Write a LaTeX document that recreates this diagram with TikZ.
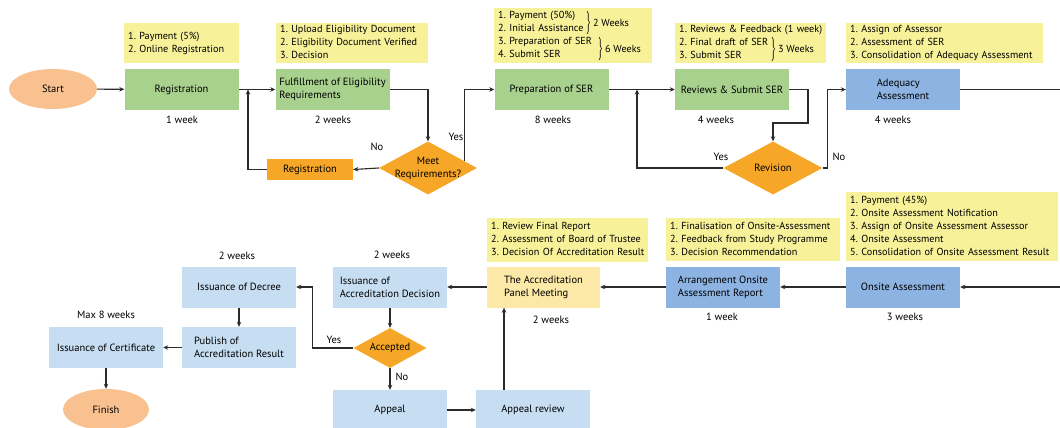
\documentclass[tikz,border=0pt]{standalone}
\usepackage{fontspec}
\setmainfont{PT Sans}
\frenchspacing
\usetikzlibrary{arrows.meta,shapes.geometric,calc,decorations.pathreplacing}
\definecolor{gfill}{HTML}{A9D18E}
\definecolor{notefill}{HTML}{F7F19A}
\definecolor{orng}{HTML}{F7A727}
\definecolor{peach}{HTML}{F9C18F}
\definecolor{dblue}{HTML}{8DB3E2}
\definecolor{lblue}{HTML}{C7DDF2}
\definecolor{pale}{HTML}{FCE8A7}
\definecolor{lncol}{HTML}{2B2B2B}
\newcommand{\lines}[1]{\begin{tabular}{@{}l@{}}#1\end{tabular}}
\begin{document}
\begin{tikzpicture}[x=1pt,y=-1pt,
  font=\fontsize{10.5}{13}\selectfont,
  box/.style={rectangle, minimum width=114pt, minimum height=41pt, align=left, inner sep=2pt},
  gbox/.style={box, fill=gfill},
  dbbox/.style={box, fill=dblue},
  lbbox/.style={box, fill=lblue},
  pbox/.style={box, fill=pale, minimum width=113pt},
  obox/.style={rectangle, fill=orng, minimum width=86pt, minimum height=21pt, inner sep=0pt},
  ell/.style={ellipse, fill=peach, minimum width=88pt, minimum height=40pt, inner sep=0pt},
  dia/.style={diamond, fill=orng, inner sep=0pt},
  notebox/.style={rectangle, fill=notefill, align=left, inner xsep=4pt, inner ysep=0pt, anchor=north west, font=\fontsize{10.2}{13}\selectfont},
  lbl/.style={inner sep=0pt},
  brlbl/.style={inner sep=0pt, anchor=west, font=\fontsize{10.2}{13}\selectfont},
  brc/.style={draw=black, line width=0.6pt, decorate, decoration={brace, amplitude=2.5pt}},
  conn/.style={draw=lncol, line width=1.1pt},
  arr/.style={conn, -{Stealth[length=5pt,width=4.5pt]}}
]
\useasboundingbox (0,0) rectangle (1060,428);
\clip (0,0) rectangle (1060,428);
\fill[white] (0,0) rectangle (1060,428);

% ---- row 1 ----
\node[ell] (start) at (53,89) {Start};
\node[gbox] (reg) at (181.5,89.5) {Registration};
\node[notebox, text width=107pt, minimum height=40pt] (regnote) at (124,23) {\lines{1. Payment (5\%)\\2. Online Registration}};
\node[lbl] (w1) at (182,120) {1 week};

\node[gbox] (ful) at (332.5,89.5) {Fulfillment of Eligibility\\Requirements};
\node[notebox, text width=144pt, minimum height=40pt] (fulnote) at (276,23) {\lines{1. Upload Eligibility Document\\2. Eligibility Document Verified\\3. Decision}};
\node[lbl] (w2) at (333,120) {2 weeks};

\node[dia, minimum width=98pt, minimum height=53pt] (meet) at (428,168) {};
\node[lbl, align=center] (meettxt) at (meet.center) {Meet\\Requirements?};
\node[obox] (reg2) at (310,169.5) {Registration};
\node[lbl] (no1) at (377,147) {No};
\node[lbl] (yes1) at (456,137) {Yes};

\node[gbox] (prep) at (551.5,89.5) {Preparation of SER};
\node[notebox, text width=150pt, minimum height=55pt] (prepnote) at (494,8) {\lines{1. Payment (50\%)\\2. Initial Assistance\\3. Preparation of SER\\4. Submit SER}};
\draw[brc] (587,11) -- (587,34);
\node[brlbl] (wk2) at (593,22.5) {2 Weeks};
\draw[brc] (599,37) -- (599,60);
\node[brlbl] (wk6) at (605,48.5) {6 Weeks};
\node[lbl] (w3) at (553,120) {8 weeks};

\node[gbox] (rev) at (732,89.5) {Reviews \& Submit SER};
\node[notebox, text width=143pt, minimum height=40pt] (revnote) at (675,23) {\lines{1. Reviews \& Feedback (1 week)\\2. Final draft of SER\\3. Submit SER}};
\draw[brc] (772,37) -- (772,61);
\node[brlbl] (wk3) at (778,49) {3 Weeks};
\node[lbl] (w4) at (716,120) {4 weeks};

\node[dia, minimum width=99pt, minimum height=53pt] (revi) at (773,168) {};
\node[lbl] (revitxt) at (revi.center) {Revision};
\node[lbl] (yes2) at (721,157) {Yes};
\node[lbl] (no2) at (839,157) {No};

\node[dbbox] (adeq) at (903,89.5) {Adequacy\\Assessment};
\node[notebox, text width=189pt, minimum height=40pt] (adeqnote) at (846,23) {\lines{1. Assign of Assessor\\2. Assessment of SER\\3. Consolidation of Adequacy Assessment}};
\node[lbl] (w5) at (893,120) {4 weeks};

% ---- row 2 ----
\node[dbbox] (onsite) at (903,287) {Onsite Assessment};
\node[notebox, text width=204pt, minimum height=69pt] (onsitenote) at (846,192) {\lines{1. Payment (45\%)\\2. Onsite Assessment Notification\\3. Assign of Onsite Assessment Assessor\\4. Onsite Assessment\\5. Consolidation of Onsite Assessment Result}};
\node[lbl] (w6) at (905,317) {3 weeks};

\node[dbbox] (arrg) at (723,287) {Arrangement Onsite\\Assessment Report};
\node[notebox, text width=166pt, minimum height=43pt] (arrnote) at (666,218) {\lines{1. Finalisation of Onsite-Assessment\\2. Feedback from Study Programme\\3. Decision Recommendation}};
\node[lbl] (w7) at (722,317) {1 week};

\node[pbox] (panel) at (543.5,287) {The Accreditation\\Panel Meeting};
\node[notebox, text width=153pt, minimum height=44pt] (panelnote) at (487,218) {\lines{1. Review Final Report\\2. Assessment of Board of Trustee\\3. Decision Of Accreditation Result}};
\node[lbl] (w8) at (551,320) {2 weeks};

\node[lbbox] (isdec) at (390,287) {Issuance of\\Accreditation Decision};
\node[lbl] (w9) at (392,255) {2 weeks};
\node[dia, minimum width=73pt, minimum height=40pt] (acc) at (390,348) {};
\node[lbl] (acctxt) at (acc.center) {Accepted};
\node[lbl] (yes3) at (334,340) {Yes};
\node[lbl] (no3) at (402,377) {No};

\node[lbbox, minimum height=40pt] (appeal) at (390,410) {Appeal};
\node[lbbox, minimum height=40pt] (apprev) at (533,410) {Appeal review};

\node[lbbox] (decree) at (239,287) {Issuance of Decree};
\node[lbl] (w10) at (237,256) {2 weeks};
\node[lbbox] (publish) at (239,347.5) {Publish of\\Accreditation Result};
\node[lbbox] (cert) at (106,347.5) {Issuance of Certificate};
\node[lbl] (w11) at (106,315) {Max 8 weeks};
\node[ell, minimum width=86pt, minimum height=41pt] (finish) at (106,409.5) {Finish};

\coordinate (j1) at (248,89.5);
\coordinate (j2) at (637,89.5);
\coordinate (r1) at (808,123);
\coordinate (e1) at (1060,89.5);
\coordinate (e2) at (1060,287);

% ---- connectors ----
\draw[arr] (start) -- (reg);
\draw[arr] (reg) -- (ful);
\draw[arr] (ful.east) -| (meet.north);
\draw[arr] (meet.west) -- (reg2.east);
\draw[arr] (reg2.west) -| (j1);
\draw[arr] ($(meet.east)!0.25!(meet.north)$) |- (prep.west);
\draw[arr] (prep) -- (rev);
\draw[arr] (rev.east) -| (r1) -| (revi.north);
\draw[arr] (revi.west) -| (j2);
\draw[arr] (revi.east) -- ++(5,0) |- (adeq.west);
\draw[conn] (adeq.east) -- (e1);

\draw[arr] (e2) -- (onsite.east);
\draw[arr] (onsite) -- (arrg);
\draw[arr] (arrg) -- (panel);
\draw[arr] (panel) -- (isdec);
\draw[arr] (isdec) -- (acc);
\draw[arr] (acc) -- (appeal);
\draw[arr] (appeal) -- (apprev);
\draw[arr] ([xshift=-29pt]apprev.north) -- ([xshift=-29pt]apprev.north |- panel.south);
\draw[arr] (acc.west) -- ++(-41,0) |- (decree.east);
\draw[arr] (decree) -- (publish);
\draw[arr] (publish) -- (cert);
\draw[arr] (cert) -- (finish);
\end{tikzpicture}
\end{document}
